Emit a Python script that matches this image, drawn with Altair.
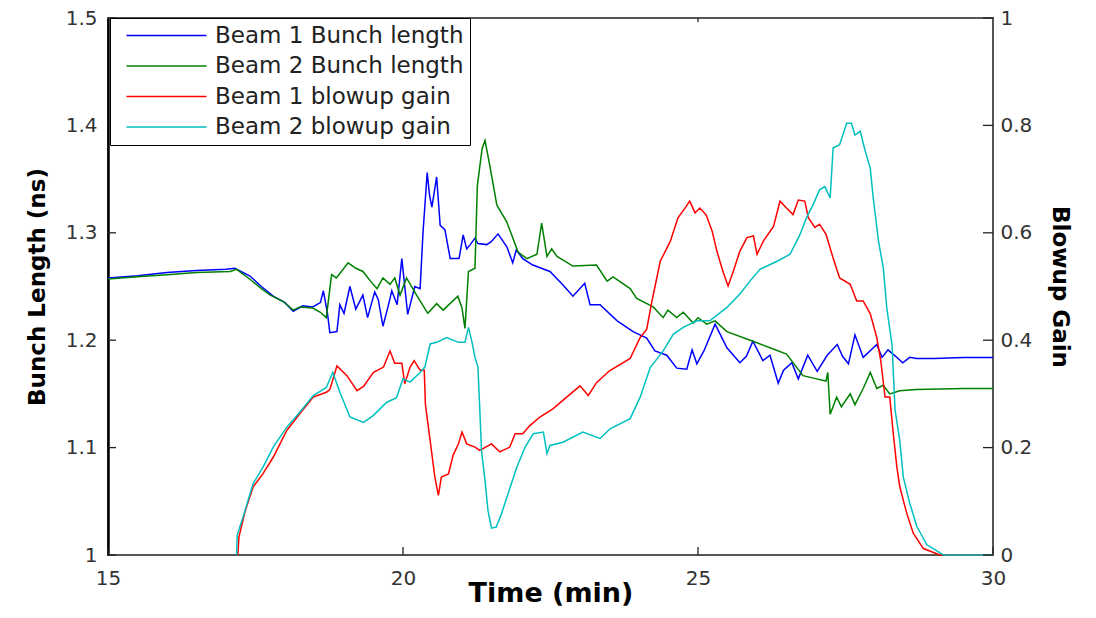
import altair as alt
import pandas as pd

# ---- data ----
b1_len_t = [15.0, 15.5, 16.0, 16.5, 17.0, 17.15, 17.4, 17.6, 17.8, 18.0, 18.14, 18.3, 18.47, 18.6, 18.65,
            18.72, 18.76, 18.88, 18.93, 19.0, 19.1, 19.2, 19.32, 19.4, 19.52, 19.58, 19.66, 19.75, 19.81,
            19.9, 19.98, 20.03, 20.08, 20.2, 20.29, 20.34, 20.41, 20.45, 20.49, 20.57, 20.63, 20.71, 20.8,
            20.95, 21.02, 21.08, 21.14, 21.22, 21.27, 21.42, 21.5, 21.61, 21.76, 21.86, 21.92, 22.03, 22.2,
            22.49, 22.7, 22.88, 23.08, 23.17, 23.34, 23.63, 23.9, 24.13, 24.27, 24.47, 24.64, 24.81, 24.9,
            24.98, 25.1, 25.29, 25.49, 25.71, 25.82, 25.93, 26.1, 26.22, 26.36, 26.45, 26.59, 26.7, 26.86,
            27.02, 27.19, 27.36, 27.45, 27.55, 27.66, 27.8, 28.03, 28.12, 28.22, 28.35, 28.47, 28.59, 28.7,
            29.0, 29.5, 30.0]
b1_len_v = [1.258, 1.26, 1.263, 1.265, 1.266, 1.267, 1.26, 1.25, 1.241, 1.235, 1.227, 1.232, 1.231, 1.235, 1.246,
            1.225, 1.207, 1.208, 1.233, 1.225, 1.25, 1.229, 1.242, 1.221, 1.245, 1.238, 1.213, 1.232, 1.246,
            1.233, 1.276, 1.25, 1.224, 1.25, 1.248, 1.301, 1.356, 1.335, 1.324, 1.352, 1.307, 1.303, 1.276,
            1.276, 1.298, 1.285, 1.289, 1.295, 1.29, 1.289, 1.292, 1.299, 1.287, 1.272, 1.284, 1.276, 1.27,
            1.264, 1.252, 1.241, 1.253, 1.233, 1.233, 1.218, 1.208, 1.202, 1.19, 1.186, 1.174, 1.173, 1.191,
            1.178, 1.19, 1.215, 1.193, 1.179, 1.185, 1.199, 1.181, 1.186, 1.16, 1.172, 1.179, 1.164, 1.186,
            1.171, 1.186, 1.196, 1.185, 1.178, 1.205, 1.184, 1.196, 1.184, 1.191, 1.185, 1.179, 1.184, 1.183,
            1.183, 1.184, 1.184]

b2_len_t = [15.0, 15.5, 16.0, 16.5, 17.07, 17.18, 17.4, 17.6, 17.75, 17.97, 18.14, 18.25, 18.47, 18.6, 18.7,
            18.79, 18.87, 19.07, 19.2, 19.32, 19.45, 19.56, 19.66, 19.78, 19.86, 19.95, 20.06, 20.23, 20.42,
            20.57, 20.68, 20.93, 21.0, 21.05, 21.11, 21.22, 21.26, 21.34, 21.39, 21.47, 21.59, 21.76, 21.95,
            22.1, 22.27, 22.35, 22.44, 22.52, 22.61, 22.88, 23.28, 23.46, 23.56, 23.85, 23.96, 24.24, 24.41,
            24.49, 24.64, 24.75, 24.92, 25.0, 25.15, 25.29, 25.49, 25.93, 26.22, 26.5, 26.78, 27.01, 27.17,
            27.2, 27.24, 27.35, 27.43, 27.58, 27.66, 27.8, 27.92, 28.03, 28.14, 28.25, 28.42, 28.7, 29.5, 30.0]
b2_len_v = [1.257, 1.259, 1.261, 1.263, 1.264, 1.266, 1.257, 1.248, 1.242, 1.236, 1.228, 1.231, 1.23, 1.226, 1.221,
            1.261, 1.258, 1.272, 1.267, 1.264, 1.255, 1.248, 1.258, 1.252, 1.258, 1.242, 1.258, 1.242, 1.225,
            1.234, 1.228, 1.241, 1.23, 1.211, 1.264, 1.267, 1.344, 1.378, 1.386, 1.363, 1.326, 1.31, 1.282,
            1.276, 1.28, 1.309, 1.278, 1.285, 1.278, 1.269, 1.27, 1.255, 1.259, 1.248, 1.239, 1.231, 1.221,
            1.228, 1.221, 1.226, 1.216, 1.221, 1.215, 1.218, 1.208, 1.199, 1.193, 1.187, 1.167, 1.164, 1.162,
            1.17, 1.131, 1.147, 1.138, 1.15, 1.14, 1.155, 1.17, 1.155, 1.158, 1.15, 1.153, 1.154, 1.155, 1.155]

b1_gain_t = [17.2, 17.22, 17.32, 17.46, 17.63, 17.8, 18.03, 18.25, 18.48, 18.7, 18.76, 18.88, 19.05, 19.22,
             19.33, 19.5, 19.67, 19.78, 19.86, 19.98, 20.03, 20.12, 20.19, 20.29, 20.36, 20.38, 20.46, 20.54,
             20.6, 20.65, 20.77, 20.85, 20.94, 21.0, 21.08, 21.22, 21.3, 21.5, 21.64, 21.81, 21.9, 22.03,
             22.15, 22.32, 22.54, 22.71, 23.0, 23.14, 23.28, 23.5, 23.85, 24.02, 24.13, 24.22, 24.36, 24.53,
             24.66, 24.78, 24.86, 24.95, 25.03, 25.14, 25.24, 25.32, 25.42, 25.51, 25.6, 25.71, 25.83, 25.94,
             26.0, 26.11, 26.28, 26.39, 26.5, 26.61, 26.7, 26.81, 26.87, 26.98, 27.06, 27.17, 27.29, 27.4,
             27.58, 27.69, 27.8, 27.92, 28.03, 28.1, 28.17, 28.25, 28.31, 28.37, 28.42, 28.54, 28.65, 28.82,
             29.1, 30.0]
b1_gain_v = [0.0, 0.034, 0.08, 0.127, 0.152, 0.182, 0.232, 0.263, 0.294, 0.303, 0.308, 0.352, 0.334, 0.306,
             0.314, 0.34, 0.35, 0.38, 0.357, 0.357, 0.319, 0.35, 0.362, 0.344, 0.344, 0.28, 0.213, 0.145,
             0.111, 0.145, 0.151, 0.186, 0.207, 0.229, 0.207, 0.201, 0.195, 0.207, 0.192, 0.201, 0.226, 0.226,
             0.241, 0.257, 0.272, 0.288, 0.315, 0.297, 0.321, 0.343, 0.366, 0.405, 0.42, 0.473, 0.547, 0.584,
             0.628, 0.646, 0.659, 0.637, 0.646, 0.633, 0.603, 0.566, 0.529, 0.501, 0.529, 0.566, 0.591, 0.594,
             0.56, 0.585, 0.612, 0.659, 0.646, 0.634, 0.661, 0.659, 0.628, 0.61, 0.616, 0.597, 0.553, 0.516,
             0.504, 0.473, 0.473, 0.449, 0.405, 0.36, 0.294, 0.294, 0.226, 0.164, 0.127, 0.077, 0.04, 0.012,
             0.0, 0.0]

b2_gain_t = [17.18, 17.19, 17.29, 17.46, 17.63, 17.8, 18.03, 18.25, 18.48, 18.7, 18.81, 18.93, 19.1, 19.33,
             19.5, 19.72, 19.89, 20.0, 20.12, 20.29, 20.37, 20.46, 20.57, 20.74, 20.94, 21.05, 21.11, 21.17,
             21.22, 21.27, 21.3, 21.33, 21.39, 21.44, 21.5, 21.58, 21.67, 21.78, 21.93, 22.07, 22.21, 22.38,
             22.44, 22.49, 22.71, 23.05, 23.34, 23.51, 23.85, 24.02, 24.19, 24.41, 24.58, 24.75, 24.98, 25.2,
             25.49, 25.71, 25.88, 26.05, 26.34, 26.56, 26.73, 26.85, 26.95, 27.06, 27.15, 27.24, 27.29, 27.4,
             27.52, 27.6, 27.66, 27.75, 27.83, 27.92, 27.97, 28.06, 28.14, 28.2, 28.29, 28.34, 28.42, 28.48,
             28.59, 28.71, 28.88, 29.16, 30.0]
b2_gain_v = [0.0, 0.037, 0.071, 0.133, 0.164, 0.201, 0.238, 0.266, 0.297, 0.312, 0.34, 0.303, 0.257, 0.247,
             0.26, 0.284, 0.293, 0.328, 0.322, 0.34, 0.35, 0.393, 0.396, 0.405, 0.396, 0.396, 0.424, 0.396,
             0.368, 0.35, 0.275, 0.195, 0.139, 0.083, 0.05, 0.052, 0.077, 0.114, 0.164, 0.201, 0.226, 0.229,
             0.189, 0.204, 0.21, 0.229, 0.217, 0.235, 0.254, 0.294, 0.349, 0.38, 0.411, 0.424, 0.436, 0.436,
             0.461, 0.486, 0.51, 0.532, 0.547, 0.56, 0.597, 0.631, 0.652, 0.68, 0.686, 0.665, 0.758, 0.764,
             0.804, 0.804, 0.782, 0.789, 0.754, 0.72, 0.665, 0.584, 0.535, 0.46, 0.39, 0.27, 0.213, 0.145,
             0.096, 0.053, 0.019, 0.0, 0.0]

series_names = ["Beam 1 Bunch length", "Beam 2 Bunch length", "Beam 1 blowup gain", "Beam 2 blowup gain"]
series_colors = ["#0000FF", "#008000", "#FF0000", "#00BFBF"]
x_ticks = [15, 20, 25, 30]
left_ticks = [1, 1.1, 1.2, 1.3, 1.4, 1.5]
right_ticks = [0, 0.2, 0.4, 0.6, 0.8, 1]


def frame(t, v, name):
    return pd.DataFrame({"time": t, "value": v, "series": name, "order": range(len(t))})


len_df = pd.concat([frame(b1_len_t, b1_len_v, series_names[0]),
                    frame(b2_len_t, b2_len_v, series_names[1])])
gain_df = pd.concat([frame(b1_gain_t, b1_gain_v, series_names[2]),
                     frame(b2_gain_t, b2_gain_v, series_names[3])])

W, H = 885, 537
TL = 8     # inward tick length (left / bottom)
TR = 10    # inward tick length (right)
TT = 4     # short ticks along the top edge
TICK_COLOR = "#222222"
FONT = "DejaVu Sans"
AX = dict(ticks=False, grid=False, labelFont=FONT, labelFontSize=20, labelColor="#333333",
          titleFont=FONT, titleFontWeight="bold", titleColor="#000000")

color = alt.Color(
    "series:N",
    scale=alt.Scale(domain=series_names, range=series_colors),
    legend=alt.Legend(
        title=None, orient="none", legendX=2, legendY=0,
        symbolType="M-1,0H7", symbolSize=400, symbolStrokeWidth=1.5, symbolOffset=9,
        labelOffset=67, labelFont=FONT, labelFontSize=23, labelColor="#222222",
        rowPadding=6.5, padding=6, strokeColor="#000000", fillColor="#ffffff",
        labelLimit=400,
    ),
)

x_enc = alt.X(
    "time:Q",
    scale=alt.Scale(domain=[15, 30], nice=False, zero=False),
    axis=alt.Axis(values=x_ticks, title="Time (min)", labelPadding=13, titleFontSize=27,
                  titleY=46, titleBaseline="alphabetic", labelFlush=False, domain=False, **AX),
)

y_left = alt.Y("value:Q", scale=alt.Scale(domain=[1, 1.5], nice=False, zero=False),
               axis=alt.Axis(values=left_ticks, format="~g", title="Bunch Length (ns)", orient="left",
                             labelPadding=11, titleFontSize=23, titlePadding=16,
                             domain=True, domainColor="#000000", domainWidth=2.5, **AX))

y_right = alt.Y("value:Q", scale=alt.Scale(domain=[0, 1], nice=False, zero=False),
                axis=alt.Axis(values=right_ticks, format="~g", title="Blowup Gain", orient="right",
                              labelPadding=7, titleFontSize=23, titlePadding=16, domain=False, **AX))

left_lines = alt.Chart(len_df).mark_line(strokeWidth=1.5).encode(
    x=x_enc, y=y_left, color=color, detail="series:N", order="order:Q")

right_lines = alt.Chart(gain_df).mark_line(strokeWidth=1.5).encode(
    x=x_enc, y=y_right, color=color, detail="series:N", order="order:Q")

# inward axis ticks (MATLAB style), placed by the same scales as the data
left_tick_marks = alt.Chart(pd.DataFrame({"value": left_ticks})).mark_rule(
    strokeWidth=1.3, color=TICK_COLOR).encode(
    y=y_left, x=alt.value(0), x2=alt.value(TL))

right_tick_marks = alt.Chart(pd.DataFrame({"value": right_ticks})).mark_rule(
    strokeWidth=1.3, color=TICK_COLOR).encode(
    y=y_right, x=alt.value(W - TR), x2=alt.value(W))

x_tick_marks = alt.Chart(pd.DataFrame({"time": x_ticks})).mark_rule(
    strokeWidth=1.3, color=TICK_COLOR).encode(
    x=x_enc, y=alt.value(H - TL), y2=alt.value(H))

x_top_tick_marks = alt.Chart(pd.DataFrame({"time": x_ticks[1:-1]})).mark_rule(
    strokeWidth=1.3, color=TICK_COLOR).encode(
    x=x_enc, y=alt.value(0), y2=alt.value(TT))

left_group = alt.layer(left_lines, left_tick_marks, x_tick_marks, x_top_tick_marks)
right_group = alt.layer(right_lines, right_tick_marks)

chart = alt.layer(left_group, right_group).resolve_scale(y="independent").properties(
    width=W, height=H,
    autosize=alt.AutoSizeParams(type="none"),
    padding={"left": 100, "top": 10, "right": 85, "bottom": 54},
    background="#ffffff",
).configure_view(stroke="#555555", strokeWidth=2)

chart.save("out.html", embed_options={"renderer": "svg", "actions": False})
